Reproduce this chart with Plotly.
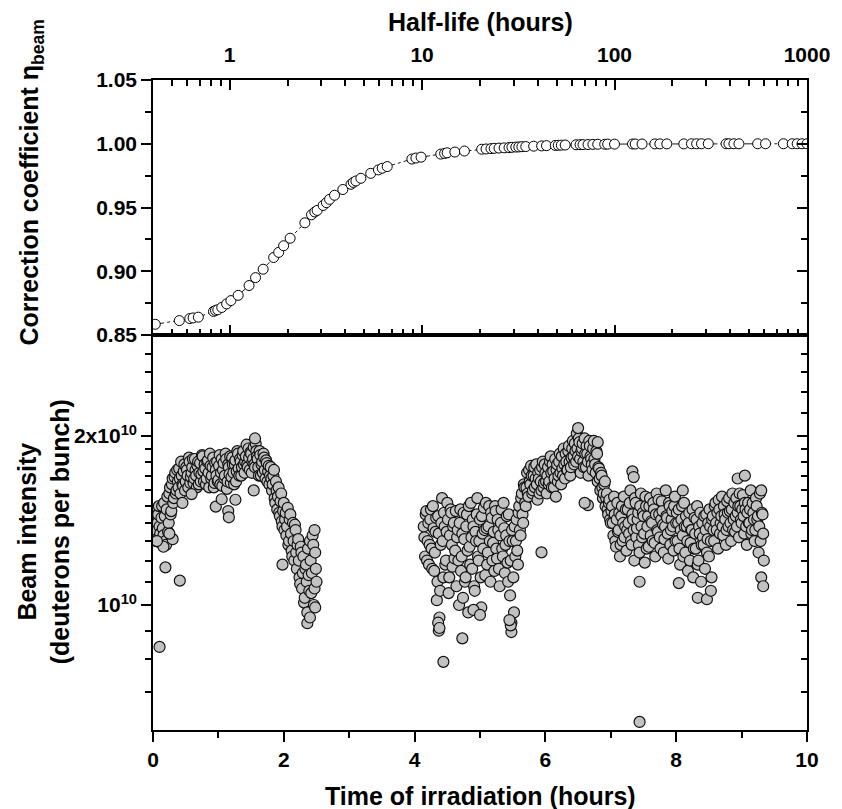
import plotly.graph_objects as go

# ---------------- Top panel data: correction coefficient vs half-life ----------------
half_life_h = [0.411, 0.548, 0.621, 0.646, 0.688, 0.825, 0.845, 0.868, 0.910, 0.965,
               1.016, 1.108, 1.262, 1.364, 1.494, 1.694, 1.799, 1.909, 2.063, 2.461,
               2.664, 2.772, 2.851, 3.062, 3.184, 3.307, 3.509, 3.875, 4.272, 4.393,
               4.53, 4.81, 5.41, 5.93, 6.21, 6.59, 8.85, 9.29, 9.88, 12.5,
               13.1, 13.5, 14.8, 16.6, 20.4, 21.5, 22.8, 23.7, 25.1, 26.7,
               28.3, 29.3, 30.7, 31.8, 33.0, 34.6, 38.0, 41.8, 44.3, 49.2,
               51.0, 52.9, 55.4, 63.1, 66.2, 68.6, 72.8, 77.2, 81.8, 88.9,
               92.1, 100, 124, 128, 139, 162, 172, 187, 229, 251,
               267, 283, 307, 380, 393, 417, 443, 554, 609, 754,
               838, 889, 942, 1000]
eta_beam = [0.8584, 0.8613, 0.8629, 0.8634, 0.8640, 0.8685, 0.8693, 0.8698, 0.8716, 0.8744,
            0.8770, 0.8811, 0.8888, 0.8950, 0.9016, 0.9108, 0.9148, 0.9200, 0.9259, 0.9380,
            0.9443, 0.9465, 0.9477, 0.9516, 0.9538, 0.9564, 0.9596, 0.9641, 0.9682, 0.9697,
            0.9708, 0.9729, 0.9768, 0.9795, 0.9808, 0.9821, 0.9880, 0.9888, 0.9895, 0.9919,
            0.9924, 0.9929, 0.9935, 0.9943, 0.9957, 0.9959, 0.9962, 0.9964, 0.9966, 0.9968,
            0.9970, 0.9972, 0.9974, 0.9975, 0.9977, 0.9978, 0.9981, 0.9983, 0.9985, 0.9987,
            0.9988, 0.9989, 0.9990, 0.9992, 0.9993, 0.9993, 0.9994, 0.9995, 0.9996, 0.9996,
            0.9997, 0.9997, 0.9998, 0.9998, 0.9998, 0.9999, 0.9999, 0.9999, 0.9999, 1.0,
            1.0, 1.0, 1.0, 1.0, 1.0, 1.0, 1.0, 1.0, 1.0, 1.0,
            1.0, 1.0, 1.0, 1.0]

# ---------------- Bottom panel data: beam intensity (units of 1e10) vs time ----------------
time_run1 = [0.00, 0.02, 0.04, 0.06, 0.08, 0.10, 0.12, 0.14, 0.16, 0.18,
             0.20, 0.22, 0.24, 0.26, 0.28, 0.30, 0.32, 0.34, 0.36, 0.38,
             0.40, 0.42, 0.44, 0.46, 0.48, 0.50, 0.52, 0.54, 0.56, 0.58,
             0.60, 0.62, 0.64, 0.66, 0.68, 0.70, 0.72, 0.74, 0.76, 0.78,
             0.80, 0.82, 0.84, 0.86, 0.88, 0.90, 0.92, 0.94, 0.96, 0.98,
             1.00, 1.02, 1.04, 1.06, 1.08, 1.10, 1.12, 1.14, 1.16, 1.18,
             1.20, 1.22, 1.24, 1.26, 1.28, 1.30, 1.32, 1.34, 1.36, 1.38,
             1.40, 1.42, 1.44, 1.46, 1.48, 1.50, 1.52, 1.54, 1.56, 1.58,
             1.60, 1.62, 1.64, 1.66, 1.68, 1.70, 1.72, 1.74, 1.76, 1.78,
             1.80, 1.82, 1.84, 1.86, 1.88, 1.90, 1.92, 1.94, 1.96, 1.98,
             2.00, 2.02, 2.04, 2.06, 2.08, 2.10, 2.12, 2.14, 2.16, 2.18,
             2.20, 2.22, 2.24, 2.26, 2.28, 2.30, 2.32, 2.34, 2.36, 2.38,
             2.40, 2.42, 2.44, 2.46, 2.48, 2.50]
beam_run1 = [1.42, 1.35, 1.48, 1.31, 1.45, 1.38, 1.29, 1.50, 1.33, 1.44,
             1.28, 1.56, 1.40, 1.62, 1.47, 1.68, 1.55, 1.72, 1.60, 1.66,
             1.75, 1.58, 1.70, 1.63, 1.78, 1.66, 1.74, 1.62, 1.80, 1.69,
             1.76, 1.65, 1.82, 1.70, 1.77, 1.64, 1.79, 1.71, 1.84, 1.66,
             1.75, 1.68, 1.81, 1.62, 1.77, 1.70, 1.83, 1.65, 1.74, 1.80,
             1.67, 1.85, 1.72, 1.63, 1.79, 1.70, 1.82, 1.66, 1.76, 1.84,
             1.69, 1.78, 1.64, 1.81, 1.73, 1.86, 1.70, 1.80, 1.76, 1.88,
             1.72, 1.84, 1.78, 1.90, 1.74, 1.86, 1.80, 1.91, 1.76, 1.88,
             1.82, 1.70, 1.85, 1.78, 1.72, 1.83, 1.68, 1.79, 1.73, 1.64,
             1.76, 1.60, 1.70, 1.55, 1.66, 1.48, 1.62, 1.44, 1.58, 1.38,
             1.52, 1.42, 1.33, 1.49, 1.30, 1.45, 1.25, 1.40, 1.20, 1.36,
             1.16, 1.31, 1.12, 1.27, 1.07, 1.22, 1.03, 1.18, 0.97, 1.13,
             1.30, 1.05, 1.33, 1.00, 1.24, 1.10]

time_run1b = [0.01, 0.03, 0.05, 0.07, 0.09, 0.11, 0.13, 0.15, 0.17, 0.19,
              0.21, 0.23, 0.25, 0.27, 0.29, 0.31, 0.33, 0.35, 0.37, 0.39,
              0.41, 0.43, 0.45, 0.47, 0.49, 0.51, 0.53, 0.55, 0.57, 0.59,
              0.61, 0.63, 0.65, 0.67, 0.69, 0.71, 0.73, 0.75, 0.77, 0.79,
              0.81, 0.83, 0.85, 0.87, 0.89, 0.91, 0.93, 0.95, 0.97, 0.99,
              1.01, 1.03, 1.05, 1.07, 1.09, 1.11, 1.13, 1.15, 1.17, 1.19,
              1.21, 1.23, 1.25, 1.27, 1.29, 1.31, 1.33, 1.35, 1.37, 1.39,
              1.41, 1.43, 1.45, 1.47, 1.49, 1.51, 1.53, 1.55, 1.57, 1.59,
              1.61, 1.63, 1.65, 1.67, 1.69, 1.71, 1.73, 1.75, 1.77, 1.79,
              1.81, 1.83, 1.85, 1.87, 1.89, 1.91, 1.93, 1.95, 1.97, 1.99,
              2.01, 2.03, 2.05, 2.07, 2.09, 2.11, 2.13, 2.15, 2.17, 2.19,
              2.21, 2.23, 2.25, 2.27, 2.29, 2.31, 2.33, 2.35, 2.37, 2.39,
              2.41, 2.43, 2.45, 2.47, 2.49]
beam_run1b = [1.36, 1.46, 1.30, 1.40, 1.50, 1.34, 1.43, 1.37, 1.52, 1.30,
              1.48, 1.35, 1.58, 1.45, 1.64, 1.52, 1.69, 1.58, 1.74, 1.62,
              1.68, 1.80, 1.64, 1.73, 1.60, 1.76, 1.70, 1.83, 1.65, 1.72,
              1.82, 1.68, 1.74, 1.62, 1.80, 1.72, 1.66, 1.85, 1.73, 1.78,
              1.64, 1.80, 1.72, 1.86, 1.68, 1.76, 1.62, 1.79, 1.70, 1.66,
              1.77, 1.64, 1.82, 1.74, 1.68, 1.86, 1.61, 1.78, 1.71, 1.65,
              1.83, 1.72, 1.78, 1.66, 1.88, 1.75, 1.82, 1.70, 1.85, 1.78,
              1.80, 1.93, 1.76, 1.83, 1.87, 1.72, 1.82, 1.78, 1.94, 1.84,
              1.76, 1.88, 1.70, 1.80, 1.86, 1.74, 1.81, 1.66, 1.77, 1.70,
              1.68, 1.64, 1.74, 1.52, 1.60, 1.56, 1.46, 1.53, 1.41, 1.47,
              1.36, 1.46, 1.38, 1.28, 1.42, 1.34, 1.22, 1.30, 1.39, 1.24,
              1.28, 1.20, 1.09, 1.24, 1.14, 1.01, 1.16, 1.10, 1.26, 1.06,
              1.20, 1.14, 1.28, 1.07, 1.16]

time_run2 = [4.14, 4.16, 4.18, 4.20, 4.22, 4.24, 4.26, 4.28, 4.30, 4.32, 4.34, 4.36, 4.38, 4.40,
             4.42, 4.44, 4.46, 4.48, 4.50, 4.52, 4.54, 4.56, 4.58, 4.60, 4.62, 4.64,
             4.66, 4.68, 4.70, 4.72, 4.74, 4.76, 4.78, 4.80, 4.82, 4.84, 4.86, 4.88,
             4.90, 4.92, 4.94, 4.96, 4.98, 5.00, 5.02, 5.04, 5.06, 5.08, 5.10,
             5.12, 5.14, 5.16, 5.18, 5.20, 5.22, 5.24, 5.26, 5.28, 5.30, 5.32, 5.34,
             5.36, 5.38, 5.40, 5.42, 5.44,
             5.46, 5.48, 5.50, 5.52, 5.54, 5.56, 5.58, 5.60, 5.62, 5.64, 5.66, 5.68,
             5.70, 5.72, 5.74, 5.76, 5.78, 5.80, 5.82, 5.84, 5.86, 5.88, 5.90, 5.92,
             5.94, 5.96, 5.98, 6.00,
             6.02, 6.04, 6.06, 6.08, 6.10, 6.12, 6.14, 6.16, 6.18, 6.20, 6.22, 6.24,
             6.26, 6.28, 6.30, 6.32, 6.34, 6.36, 6.38, 6.40,
             6.42, 6.44, 6.46, 6.48, 6.50, 6.52, 6.54, 6.56, 6.58, 6.60, 6.62, 6.64,
             6.66, 6.68, 6.70, 6.72, 6.74, 6.76, 6.78, 6.80,
             6.82, 6.84, 6.86, 6.88, 6.90, 6.92, 6.94, 6.96, 6.98, 7.00,
             7.02, 7.04, 7.06, 7.08, 7.10, 7.12, 7.14, 7.16, 7.18, 7.20, 7.22, 7.24,
             7.26, 7.28, 7.30, 7.32, 7.34, 7.36, 7.38, 7.40, 7.42, 7.44, 7.46, 7.48,
             7.50, 7.52, 7.54, 7.56, 7.58, 7.60, 7.62, 7.64, 7.66, 7.68, 7.70, 7.72,
             7.74, 7.76, 7.78, 7.80, 7.82, 7.84, 7.86, 7.88, 7.90, 7.92, 7.94, 7.96,
             7.98, 8.00,
             8.02, 8.04, 8.06, 8.08, 8.10, 8.12, 8.14, 8.16, 8.18, 8.20, 8.22, 8.24,
             8.26, 8.28, 8.30, 8.32, 8.34, 8.36, 8.38, 8.40, 8.42, 8.44, 8.46, 8.48,
             8.50, 8.52, 8.54,
             8.56, 8.58, 8.60, 8.62, 8.64, 8.66, 8.68, 8.70, 8.72, 8.74, 8.76, 8.78,
             8.80, 8.82, 8.84, 8.86, 8.88, 8.90, 8.92, 8.94, 8.96, 8.98, 9.00,
             9.02, 9.04, 9.06, 9.08, 9.10, 9.12, 9.14, 9.16, 9.18, 9.20, 9.22, 9.24,
             9.26, 9.28, 9.30, 9.32, 9.34]
beam_run2 = [1.38, 1.22, 1.47, 1.30, 1.18, 1.42, 1.26, 1.50, 1.15, 1.35, 1.02, 1.44, 0.95, 1.28,
             1.55, 1.12, 1.38, 1.20, 1.52, 1.05, 1.33, 1.46, 1.17, 1.40, 1.25, 1.08,
             1.36, 1.00, 1.48, 1.22, 1.03, 1.31, 1.12, 1.45, 0.97, 1.27, 1.52, 1.16,
             1.38, 1.06, 1.30, 1.55, 1.20, 1.42, 0.99, 1.34, 1.49, 1.13, 1.37,
             1.24, 1.50, 1.10, 1.43, 1.29, 1.15, 1.47, 1.21, 1.36, 1.08, 1.40, 1.26,
             1.52, 1.14, 1.33, 1.19, 1.45,
             1.04, 0.93, 1.30, 0.97, 1.22, 1.42, 1.18, 1.50, 1.33, 1.58, 1.40, 1.62,
             1.50, 1.72, 1.56, 1.66, 1.77, 1.58, 1.70, 1.62, 1.78, 1.54, 1.68, 1.74,
             1.60, 1.80, 1.65, 1.72,
             1.58, 1.76, 1.66, 1.84, 1.62, 1.73, 1.68, 1.56, 1.78, 1.70, 1.86, 1.64,
             1.75, 1.90, 1.68, 1.80, 1.74, 1.92, 1.70, 1.83,
             1.96, 1.78, 1.88, 2.02, 1.84, 1.95, 1.72, 1.90, 1.80, 1.98, 1.76, 1.86,
             1.70, 1.92, 1.82, 1.74, 1.96, 1.78, 1.88, 1.66,
             1.75, 1.60, 1.70, 1.55, 1.64, 1.50, 1.58, 1.45, 1.54, 1.40,
             1.50, 1.33, 1.45, 1.27, 1.52, 1.36, 1.22, 1.44, 1.30, 1.56, 1.38, 1.25,
             1.48, 1.34, 1.60, 1.28, 1.42, 1.20, 1.52, 1.37, 1.46, 1.24, 1.58, 1.32,
             1.44, 1.19, 1.50, 1.38, 1.27, 1.55, 1.41, 1.30, 1.48, 1.22, 1.58, 1.35,
             1.45, 1.26, 1.53, 1.39, 1.31, 1.60, 1.43, 1.21, 1.50, 1.36, 1.47, 1.25,
             1.56, 1.40,
             1.30, 1.48, 1.18, 1.42, 1.33, 1.52, 1.24, 1.38, 1.15, 1.46, 1.29, 1.36,
             1.12, 1.43, 1.26, 1.50, 1.20, 1.34, 1.10, 1.40, 1.28, 1.16, 1.45, 1.31,
             1.22, 1.38, 1.12,
             1.44, 1.30, 1.52, 1.36, 1.26, 1.48, 1.40, 1.56, 1.33, 1.45, 1.28, 1.53,
             1.38, 1.47, 1.30, 1.58, 1.42, 1.35, 1.55, 1.46, 1.32, 1.50, 1.40,
             1.57, 1.34, 1.48, 1.28, 1.52, 1.40, 1.60, 1.36, 1.46, 1.30, 1.55, 1.42,
             1.24, 1.58, 1.12, 1.45, 1.20]

time_run2b = [4.15, 4.17, 4.19, 4.21, 4.23, 4.25, 4.27, 4.29, 4.31, 4.33, 4.35, 4.37, 4.39, 4.41,
              4.43, 4.45, 4.47, 4.49, 4.51, 4.53, 4.55, 4.57, 4.59, 4.61, 4.63, 4.65,
              4.67, 4.69, 4.71, 4.73, 4.75, 4.77, 4.79, 4.81, 4.83, 4.85, 4.87, 4.89,
              4.91, 4.93, 4.95, 4.97, 4.99, 5.01, 5.03, 5.05, 5.07, 5.09, 5.11,
              5.13, 5.15, 5.17, 5.19, 5.21, 5.23, 5.25, 5.27, 5.29, 5.31, 5.33, 5.35,
              5.37, 5.39, 5.41, 5.43, 5.45,
              5.47, 5.49, 5.51, 5.53, 5.55, 5.57, 5.59, 5.61, 5.63, 5.65, 5.67, 5.69,
              5.71, 5.73, 5.75, 5.77, 5.79, 5.81, 5.83, 5.85, 5.87, 5.89, 5.91, 5.93,
              5.95, 5.97, 5.99, 6.01,
              6.03, 6.05, 6.07, 6.09, 6.11, 6.13, 6.15, 6.17, 6.19, 6.21, 6.23, 6.25,
              6.27, 6.29, 6.31, 6.33, 6.35, 6.37, 6.39, 6.41,
              6.43, 6.45, 6.47, 6.49, 6.51, 6.53, 6.55, 6.57, 6.59, 6.61, 6.63, 6.65,
              6.67, 6.69, 6.71, 6.73, 6.75, 6.77, 6.79, 6.81,
              6.83, 6.85, 6.87, 6.89, 6.91, 6.93, 6.95, 6.97, 6.99, 7.01,
              7.03, 7.05, 7.07, 7.09, 7.11, 7.13, 7.15, 7.17, 7.19, 7.21, 7.23, 7.25,
              7.27, 7.29, 7.31, 7.33, 7.35, 7.37, 7.39, 7.41, 7.43, 7.45, 7.47, 7.49,
              7.51, 7.53, 7.55, 7.57, 7.59, 7.61, 7.63, 7.65, 7.67, 7.69, 7.71, 7.73,
              7.75, 7.77, 7.79, 7.81, 7.83, 7.85, 7.87, 7.89, 7.91, 7.93, 7.95, 7.97,
              7.99, 8.01,
              8.03, 8.05, 8.07, 8.09, 8.11, 8.13, 8.15, 8.17, 8.19, 8.21, 8.23, 8.25,
              8.27, 8.29, 8.31, 8.33, 8.35, 8.37, 8.39, 8.41, 8.43, 8.45, 8.47, 8.49,
              8.51, 8.53, 8.55,
              8.57, 8.59, 8.61, 8.63, 8.65, 8.67, 8.69, 8.71, 8.73, 8.75, 8.77, 8.79,
              8.81, 8.83, 8.85, 8.87, 8.89, 8.91, 8.93, 8.95, 8.97, 8.99, 9.01,
              9.03, 9.05, 9.07, 9.09, 9.11, 9.13, 9.15, 9.17, 9.19, 9.21, 9.23, 9.25,
              9.27, 9.29, 9.31, 9.33]
beam_run2b = [1.32, 1.45, 1.20, 1.40, 1.28, 1.48, 1.16, 1.37, 1.24, 1.43, 1.10, 1.34, 1.06, 1.40,
              1.30, 1.46, 1.18, 1.35, 1.42, 1.12, 1.48, 1.28, 1.38, 1.21, 1.47, 1.32,
              1.20, 1.40, 1.15, 1.34, 1.46, 1.10, 1.38, 1.25, 1.50, 1.18, 1.32, 1.42,
              1.08, 1.35, 1.45, 1.22, 1.30, 1.12, 1.44, 1.26, 1.36, 1.52, 1.18,
              1.38, 1.30, 1.46, 1.20, 1.35, 1.50, 1.26, 1.42, 1.16, 1.33, 1.48, 1.22,
              1.37, 1.28, 1.44, 1.10, 1.30,
              1.20, 1.36, 1.12, 1.38, 1.30, 1.25, 1.46, 1.36, 1.55, 1.45, 1.64, 1.52,
              1.62, 1.58, 1.74, 1.64, 1.70, 1.60, 1.76, 1.68, 1.64, 1.72, 1.58, 1.66,
              1.76, 1.62, 1.78, 1.66,
              1.70, 1.64, 1.80, 1.72, 1.78, 1.62, 1.82, 1.74, 1.66, 1.80, 1.72, 1.84,
              1.70, 1.78, 1.86, 1.74, 1.88, 1.80, 1.76, 1.90,
              1.84, 1.94, 1.80, 1.90, 1.98, 1.82, 1.88, 1.94, 1.76, 1.86, 1.92, 1.80,
              1.96, 1.84, 1.78, 1.90, 1.82, 1.72, 1.86, 1.76,
              1.68, 1.72, 1.62, 1.58, 1.66, 1.55, 1.48, 1.52, 1.42, 1.47,
              1.40, 1.56, 1.30, 1.42, 1.35, 1.46, 1.28, 1.50, 1.40, 1.32, 1.48, 1.36,
              1.40, 1.52, 1.30, 1.45, 1.36, 1.55, 1.32, 1.42, 1.28, 1.50, 1.38, 1.46,
              1.34, 1.56, 1.26, 1.44, 1.50, 1.33, 1.40, 1.52, 1.29, 1.45, 1.36, 1.54,
              1.32, 1.42, 1.47, 1.24, 1.38, 1.44, 1.34, 1.52, 1.28, 1.42, 1.38, 1.50,
              1.30, 1.46,
              1.40, 1.26, 1.36, 1.50, 1.22, 1.38, 1.44, 1.30, 1.40, 1.20, 1.36, 1.48,
              1.26, 1.34, 1.42, 1.18, 1.38, 1.46, 1.28, 1.32, 1.44, 1.36, 1.24, 1.40,
              1.48, 1.30, 1.42,
              1.36, 1.50, 1.40, 1.46, 1.54, 1.34, 1.44, 1.38, 1.50, 1.42, 1.36, 1.46,
              1.55, 1.40, 1.48, 1.36, 1.52, 1.44, 1.38, 1.50, 1.58, 1.42, 1.48,
              1.44, 1.52, 1.38, 1.46, 1.40, 1.48, 1.34, 1.52, 1.42, 1.36, 1.50, 1.44,
              1.38, 1.30, 1.46, 1.34]

time_scatter = [0.10, 0.19, 0.41, 0.45, 0.59, 0.96, 1.05, 1.15, 1.16, 1.26, 1.54, 1.56,
                1.98, 2.36, 0.16, 0.30, 2.48, 2.47, 2.40, 0.06, 0.25,
                4.44, 4.73, 4.37, 4.36, 5.48, 5.47, 5.94, 6.50, 6.65, 7.33, 7.35, 7.44,
                7.44, 8.04, 8.10, 8.33, 8.47, 8.53, 8.94, 9.05, 9.33, 9.30, 6.60, 6.80,
                4.90, 5.00, 4.38, 5.45]
beam_scatter = [0.842, 1.167, 1.105, 1.52, 1.576, 1.497, 1.543, 1.47, 1.433, 1.54, 1.60, 1.98,
                1.18, 0.928, 1.27, 1.31, 0.99, 1.36, 0.95, 1.30, 1.34,
                0.792, 0.872, 0.90, 0.93, 0.895, 0.92, 1.241, 2.066, 1.506, 1.73, 1.69, 1.10,
                0.619, 1.094, 1.60, 1.03, 1.024, 1.06, 1.68, 1.70, 1.08, 1.60, 1.52, 1.95,
                0.98, 0.96, 0.91, 0.94]

assert len(half_life_h) == len(eta_beam)
assert len(time_run1) == len(beam_run1)
assert len(time_run1b) == len(beam_run1b)
assert len(time_run2) == len(beam_run2)
assert len(time_run2b) == len(beam_run2b)
assert len(time_scatter) == len(beam_scatter)

# tick definitions
time_ticks = [0, 2, 4, 6, 8, 10]
time_minor = [1, 3, 5, 7, 9]
beam_ticks = [1, 2]
beam_ticktext = ["10<sup>10</sup>", "2x10<sup>10</sup>"]
beam_minor = [0.7, 0.8, 0.9, 1.1, 1.2, 1.3, 1.4, 1.5, 1.6, 1.7, 1.8, 1.9,
              2.2, 2.4, 2.6, 2.8]
hl_ticks = [1, 10, 100, 1000]
hl_minor = [0.5, 0.6, 0.7, 0.8, 0.9, 2, 3, 4, 5, 6, 7, 8, 9,
            20, 30, 40, 50, 60, 70, 80, 90, 200, 300, 400, 500, 600, 700, 800, 900]
eta_range = [0.85, 1.05]

FONT = "Liberation Sans, Arial, Helvetica, sans-serif"
LW = 1.6
tickfont = dict(family=FONT, size=21, color="black", weight="bold")

# interleave the two sampling passes in time order so overlaps look natural
run1 = sorted(zip(time_run1 + time_run1b, beam_run1 + beam_run1b))
run2 = sorted(zip(time_run2 + time_run2b, beam_run2 + beam_run2b))
bx = [p[0] for p in run1] + [p[0] for p in run2] + time_scatter
by = [p[1] for p in run1] + [p[1] for p in run2] + beam_scatter

fig = go.Figure()
fig.add_trace(go.Scatter(
    x=half_life_h, y=eta_beam, xaxis="x2", yaxis="y2", mode="lines+markers",
    line=dict(color="black", width=0.9, dash="dashdot"),
    marker=dict(symbol="circle", size=10, color="white", line=dict(color="black", width=1)),
    showlegend=False))
fig.add_trace(go.Scatter(
    x=bx, y=by, xaxis="x", yaxis="y", mode="markers",
    marker=dict(symbol="circle", size=11, color="#c2c2c2", line=dict(color="#111111", width=1.2)),
    showlegend=False))
# empty traces so the mirrored (inside-tick) frame axes get drawn
for xa, ya in (("x", "y4"), ("x3", "y2"), ("x2", "y3")):
    fig.add_trace(go.Scatter(x=[], y=[], xaxis=xa, yaxis=ya, mode="markers",
                             showlegend=False, hoverinfo="skip"))

split = 395 / 650.0
common = dict(showline=True, linecolor="black", linewidth=LW, showgrid=False, zeroline=False,
              tickcolor="black", tickwidth=LW, tickfont=tickfont)


def minor(vals=None, dtick=None, inside=False):
    d = dict(ticks="inside" if inside else "outside", ticklen=6, tickwidth=LW, tickcolor="black")
    if vals is not None:
        d["tickvals"] = vals
    if dtick is not None:
        d["dtick"] = dtick
    return d


fig.update_layout(
    width=842, height=809,
    margin=dict(l=153, r=27, t=80, b=79),
    paper_bgcolor="white", plot_bgcolor="white",
    font=dict(family=FONT, color="black"),
    xaxis=dict(domain=[0, 1], anchor="y", range=[0, 10], tickvals=time_ticks,
               ticks="outside", ticklen=10, mirror=True,
               minor=minor(time_minor), **common),
    yaxis=dict(domain=[0, split], anchor="x", type="log",
               range=[-0.2227, 0.481], tickvals=beam_ticks, ticktext=beam_ticktext,
               ticks="outside", ticklen=10, minor=minor(beam_minor), **common),
    yaxis4=dict(overlaying="y", anchor="x", side="right", type="log",
                range=[-0.2227, 0.481], tickvals=beam_ticks, showticklabels=False,
                ticks="inside", ticklen=10, minor=minor(beam_minor, inside=True), **common),
    xaxis2=dict(domain=[0, 1], anchor="y2", side="top", type="log",
                range=[-0.398, 3.0], tickvals=hl_ticks, ticktext=["1", "10", "100", "1000"],
                ticks="inside", ticklen=10, ticklabelstandoff=8,
                minor=minor(hl_minor, inside=True), **common),
    xaxis3=dict(overlaying="x2", anchor="y2", side="bottom", type="log",
                range=[-0.398, 3.0], tickvals=hl_ticks, showticklabels=False,
                ticks="inside", ticklen=10, minor=minor(hl_minor, inside=True), **common),
    yaxis2=dict(domain=[split, 1], anchor="x2", range=eta_range, dtick=0.05,
                tick0=0.85, tickformat=".2f", ticks="outside", ticklen=10,
                minor=minor(dtick=0.025), **common),
    yaxis3=dict(overlaying="y2", anchor="x2", side="right", range=eta_range, dtick=0.05,
                tick0=0.85, showticklabels=False, ticks="inside", ticklen=10,
                minor=minor(dtick=0.025, inside=True), **common),
)

titlefont = dict(family=FONT, size=25, color="black", weight="bold")
fig.add_annotation(text="Half-life (hours)", xref="paper", yref="paper",
                   x=0.5, y=(730 - 22) / 650.0, showarrow=False, font=titlefont,
                   xanchor="center", yanchor="middle")
fig.add_annotation(text="Time of irradiation (hours)", xref="paper", yref="paper",
                   x=0.5, y=(730 - 796) / 650.0, showarrow=False, font=titlefont,
                   xanchor="center", yanchor="middle")
fig.add_annotation(text="Correction coefficient η<sub>beam</sub>", xref="paper", yref="paper",
                   x=(30 - 153) / 662.0, y=(730 - 182) / 650.0, showarrow=False,
                   font=titlefont, textangle=-90, xanchor="center", yanchor="middle")
fig.add_annotation(text="Beam intensity<br>(deuterons per bunch)", xref="paper", yref="paper",
                   x=(42 - 153) / 662.0, y=(730 - 532) / 650.0, showarrow=False,
                   font=titlefont, textangle=-90, xanchor="center", yanchor="middle")

fig.write_html("out.html")
